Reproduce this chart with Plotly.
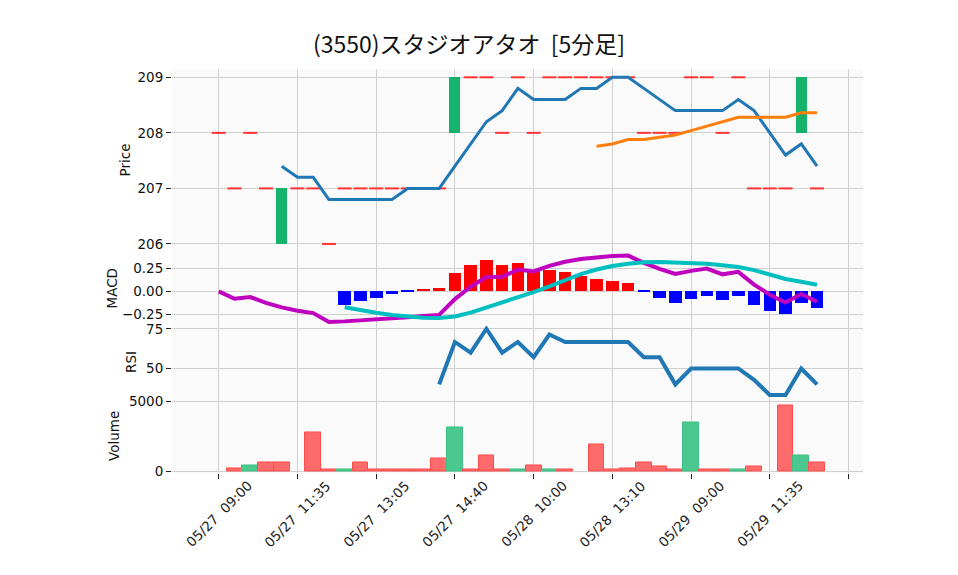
import plotly.graph_objects as go

# ---------------- data ----------------
title_text = "(3550)スタジオアタオ  [5分足]"

bar_index = list(range(39))                      # one entry per 5-minute bar
tick_positions = [0, 5, 10, 15, 20, 25, 30, 35, 40]
tick_labels = ["05/27  09:00", "05/27  11:35", "05/27  13:05", "05/27  14:40",
               "05/28  10:00", "05/28  13:10", "05/29  09:00", "05/29  11:35", ""]

close_px = [208, 207, 208, 207, 207, 207, 207, 206, 207, 207, 207, 207, 207, 207, 207,
            209, 209, 209, 208, 209, 208, 209, 209, 209, 209, 209, 209, 208, 208, 208,
            209, 209, 208, 209, 207, 207, 207, 209, 207]
open_px = [208, 207, 208, 207, 206, 207, 207, 206, 207, 207, 207, 207, 207, 207, 207,
           208, 209, 209, 208, 209, 208, 209, 209, 209, 209, 209, 209, 208, 208, 208,
           209, 209, 208, 209, 207, 207, 207, 208, 207]

volume = [0, 200, 400, 600, 600, 0, 2800, 100, 100, 600, 100, 100, 100, 100, 900,
          3100, 100, 1100, 100, 100, 400, 100, 100, 0, 1900, 100, 200, 600, 300, 100,
          3500, 100, 100, 100, 300, 0, 4700, 1100, 600]

sma5 = [None] * 4 + [207.4, 207.2, 207.2, 206.8, 206.8, 206.8, 206.8, 206.8, 207.0, 207.0,
                     207.0, 207.4, 207.8, 208.2, 208.4, 208.8, 208.6, 208.6, 208.6, 208.8,
                     208.8, 209.0, 209.0, 208.8, 208.6, 208.4, 208.4, 208.4, 208.4, 208.6,
                     208.4, 208.0, 207.6, 207.8, 207.4]
sma25 = [None] * 24 + [207.76, 207.80, 207.88, 207.88, 207.92, 207.96, 208.04, 208.12,
                       208.20, 208.28, 208.28, 208.28, 208.28, 208.36, 208.36]

macd = [0.000, -0.080, -0.062, -0.126, -0.175, -0.213, -0.238, -0.336, -0.329, -0.320,
        -0.309, -0.297, -0.284, -0.270, -0.258, -0.084, 0.052, 0.159, 0.161, 0.240,
        0.220, 0.281, 0.326, 0.357, 0.377, 0.390, 0.394, 0.314, 0.247, 0.192,
        0.226, 0.251, 0.188, 0.215, 0.075, -0.036, -0.121, -0.028, -0.114]
signal = [None] * 8 + [-0.173, -0.209, -0.234, -0.260, -0.278, -0.288, -0.293, -0.276,
                       -0.233, -0.179, -0.126, -0.065, -0.007, 0.056, 0.122, 0.190,
                       0.241, 0.279, 0.305, 0.322, 0.323, 0.320, 0.314, 0.305, 0.287,
                       0.269, 0.234, 0.186, 0.137, 0.107, 0.073]
hist = [None] * 8 + [-0.156, -0.111, -0.075, -0.037, -0.006, 0.018, 0.035, 0.192, 0.285,
                     0.338, 0.287, 0.305, 0.227, 0.225, 0.204, 0.167, 0.136, 0.111, 0.089,
                     -0.008, -0.076, -0.128, -0.088, -0.054, -0.099, -0.054, -0.159,
                     -0.222, -0.258, -0.135, -0.187]
rsi = [None] * 14 + [40.0, 66.7, 60.0, 75.0, 60.0, 66.7, 57.1, 71.4, 66.7, 66.7, 66.7, 66.7,
                     66.7, 57.1, 57.1, 40.0, 50.0, 50.0, 50.0, 50.0, 42.9, 33.3, 33.3, 50.0,
                     40.0]

# ---------------- styles ----------------
UP = "#16b36c"
DOJI = "#ff3333"
GRID = "#d0d0d0"
FONT = "DejaVu Sans"
TICK_SIZE = 13.5
PAGE_OFFSET = 8          # default body margin of the written html page

fig = go.Figure()

# candles: bodies for bars whose open != close, short dashes for the flat ones
body_idx = [i for i in bar_index if close_px[i] != open_px[i]]
flat_idx = [i for i in bar_index if close_px[i] == open_px[i]]
fig.add_trace(go.Bar(
    x=body_idx,
    y=[abs(close_px[i] - open_px[i]) for i in body_idx],
    base=[min(open_px[i], close_px[i]) for i in body_idx],
    width=0.7,
    marker=dict(color=[UP if close_px[i] > open_px[i] else DOJI for i in body_idx],
                line=dict(width=0)),
    xaxis="x", yaxis="y", hoverinfo="skip"))
fig.add_trace(go.Scatter(
    x=flat_idx, y=[close_px[i] for i in flat_idx], mode="markers",
    marker=dict(symbol="line-ew", size=10, line=dict(color=DOJI, width=2)),
    xaxis="x", yaxis="y", hoverinfo="skip"))
fig.add_trace(go.Scatter(x=bar_index, y=sma5, mode="lines",
                         line=dict(color="#1f77b4", width=3), xaxis="x", yaxis="y"))
fig.add_trace(go.Scatter(x=bar_index, y=sma25, mode="lines",
                         line=dict(color="#ff7f0e", width=3), xaxis="x", yaxis="y"))

# MACD panel
h_idx = [i for i in bar_index if hist[i] is not None]
fig.add_trace(go.Bar(
    x=h_idx, y=[hist[i] for i in h_idx], width=0.8,
    marker=dict(color=["#ff0000" if hist[i] >= 0 else "#0000ff" for i in h_idx],
                line=dict(width=0)),
    xaxis="x2", yaxis="y2"))
fig.add_trace(go.Scatter(x=bar_index, y=macd, mode="lines",
                         line=dict(color="#bf00bf", width=4), xaxis="x2", yaxis="y2"))
fig.add_trace(go.Scatter(x=bar_index, y=signal, mode="lines",
                         line=dict(color="#00bfbf", width=4), xaxis="x2", yaxis="y2"))

# RSI panel
fig.add_trace(go.Scatter(x=bar_index, y=rsi, mode="lines",
                         line=dict(color="#1f77b4", width=4), xaxis="x3", yaxis="y3"))

# Volume panel
v_idx = [i for i in bar_index if volume[i] > 0]
v_up = [i > 0 and close_px[i] > close_px[i - 1] for i in v_idx]
fig.add_trace(go.Bar(
    x=v_idx, y=[volume[i] for i in v_idx], width=1.0,
    marker=dict(color=["#4bc88f" if u else "#ff6b6b" for u in v_up],
                line=dict(color=["#3cc083" if u else "#ff4d4d" for u in v_up], width=1)),
    xaxis="x4", yaxis="y4"))

X_RANGE = [-2.97, 40.92]
xcommon = dict(range=X_RANGE, tickvals=tick_positions, showgrid=True, gridcolor=GRID,
               gridwidth=1.3, zeroline=False, showline=False, showticklabels=False)
ycommon = dict(showgrid=True, gridcolor=GRID, gridwidth=1.3, zeroline=False, showline=False,
               ticks="outside", ticklen=5, tickwidth=1, tickcolor="#222",
               tickfont=dict(family=FONT, size=TICK_SIZE, color="#111"))

W, H = 958 - PAGE_OFFSET, 575 - PAGE_OFFSET
fig.update_layout(
    width=W, height=H,
    margin=dict(l=172 - PAGE_OFFSET, r=95, t=69 - PAGE_OFFSET, b=102),
    paper_bgcolor="white", plot_bgcolor="#fafafa",
    showlegend=False, barmode="overlay", bargap=0,
    font=dict(family=FONT, size=TICK_SIZE, color="#111"),
    title=dict(text=title_text, x=(469 - PAGE_OFFSET) / W, xanchor="center", xref="container",
               y=1 - (45 - PAGE_OFFSET) / H, yanchor="middle", yref="container",
               font=dict(family="Noto Sans CJK JP", size=23, color="#111")),
    xaxis=dict(**xcommon, anchor="y"),
    xaxis2=dict(**xcommon, anchor="y2"),
    xaxis3=dict(**xcommon, anchor="y3"),
    xaxis4=dict(**xcommon, anchor="y4", ticks="outside", ticklen=5, tickwidth=1,
                tickcolor="#222"),
    yaxis=dict(**ycommon, domain=[0.5470, 1.0], range=[205.855, 209.149],
               tickvals=[206, 207, 208, 209]),
    yaxis2=dict(**ycommon, domain=[0.3663, 0.5458], range=[-0.369, 0.428],
                tickvals=[-0.25, 0.0, 0.25], tickformat=".2f"),
    yaxis3=dict(**ycommon, domain=[0.1832, 0.3651], range=[30.8, 77.06],
                tickvals=[50, 75]),
    yaxis4=dict(**ycommon, domain=[0.0, 0.1820], range=[-143, 5143],
                tickvals=[0, 5000], tickformat="d"),
)

# x tick labels, rotated 45 degrees and centred under their ticks
for pos, lab in zip(tick_positions, tick_labels):
    if lab:
        fig.add_annotation(text=lab, textangle=-45, showarrow=False,
                           xref="x4", yref="paper", x=pos, y=(473 - 514) / 404,
                           xanchor="center", yanchor="middle",
                           font=dict(family=FONT, size=TICK_SIZE, color="#222"))

# y-axis titles
for label, xpx, ycen in [("Price", 124, 160.5), ("MACD", 111, 288.5),
                         ("RSI", 131, 362), ("Volume", 114, 436)]:
    fig.add_annotation(text=label, textangle=-90, showarrow=False,
                       xref="paper", yref="paper",
                       x=(xpx - 172) / 691, y=(473 - ycen) / 404,
                       xanchor="center", yanchor="middle",
                       font=dict(family=FONT, size=TICK_SIZE, color="#111"))

fig.write_html("out.html")
